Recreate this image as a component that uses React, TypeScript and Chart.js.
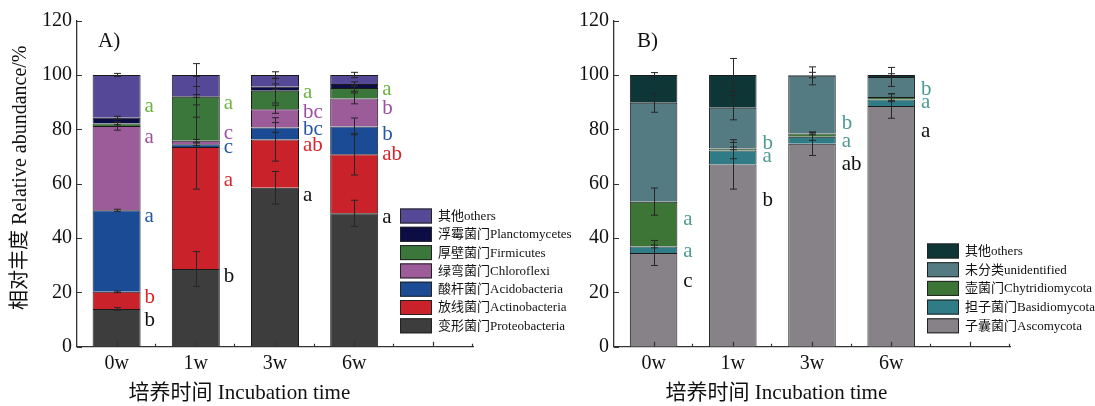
import React, { useEffect, useRef } from "react";
import { Chart, registerables } from "chart.js";
Chart.register(...registerables);

const FONT = '"Liberation Serif", "DejaVu Serif", serif';
const MIXED = '"Liberation Serif", "Noto Sans CJK SC", serif';

const categories = ["0w", "1w", "3w", "6w", ""];

// ---------- Panel A: bacteria ----------
const bacteriaNames = [
  "变形菌门Proteobacteria",
  "放线菌门Actinobacteria",
  "酸杆菌门Acidobacteria",
  "绿弯菌门Chloroflexi",
  "厚壁菌门Firmicutes",
  "浮霉菌门Planctomycetes",
  "其他others",
];
const proteobacteria = [13.9, 28.6, 58.5, 49.1];
const actinobacteria = [6.3, 44.9, 17.8, 21.7];
const acidobacteria = [30.0, 1.0, 4.4, 10.3];
const chloroflexi = [31.0, 1.3, 6.7, 10.3];
const firmicutes = [1.0, 16.2, 6.8, 3.8];
const planctomycetes = [2.1, 0.3, 1.5, 1.5];
const bacteriaOthers = [15.7, 7.7, 4.3, 3.3];

const proteobacteriaErr = [0.5, 6.4, 6.0, 4.8];
const actinobacteriaErr = [0.3, 15.5, 8.0, 7.6];
const acidobacteriaErr = [0.4, 0.5, 1.8, 3.1];
const chloroflexiErr = [1.5, 0.5, 1.5, 2.0];
const firmicutesErr = [0.5, 7.5, 4.5, 1.2];
const planctomycetesErr = [0.5, 0.5, 1.0, 0.8];
const bacteriaOthersErr = [0.6, 4.2, 1.2, 1.0];

const bacteriaColors = ["#3d3d3d", "#c9222b", "#1b4b94", "#9c5b99", "#3b763a", "#0d0d45", "#554896"];

const bacteriaLetterText = [
  ["a", "a", "a", "b", "b"],
  ["a", "c", "c", "a", "b"],
  ["a", "bc", "bc", "ab", "a"],
  ["a", "b", "b", "ab", "a"],
];
const bacteriaLetterAt = [
  [88.6, 77.1, 48.1, 18.3, 9.8],
  [89.7, 78.6, 73.5, 61.3, 25.7],
  [93.4, 86.1, 80.1, 74.2, 55.8],
  [94.8, 87.8, 78.3, 70.9, 47.7],
];
const bacteriaLetterColors = ["#6db33f", "#9b4f9e", "#2456a4", "#d7262b", "#111111"];

// ---------- Panel B: fungi ----------
const fungiNames = [
  "子囊菌门Ascomycota",
  "担子菌门Basidiomycota",
  "壶菌门Chytridiomycota",
  "未分类unidentified",
  "其他others",
];
const ascomycota = [34.5, 67.1, 74.7, 88.6];
const basidiomycota = [2.4, 5.1, 2.6, 2.4];
const chytridiomycota = [16.5, 0.8, 1.2, 0.9];
const unidentified = [36.4, 15.0, 21.2, 7.4];
const fungiOthers = [10.2, 12.0, 0.3, 0.7];

const ascomycotaErr = [4.6, 9.1, 4.3, 4.5];
const basidiomycotaErr = [0.5, 3.0, 1.35, 0.8];
const chytridiomycotaErr = [5.0, 0.5, 0.5, 1.2];
const unidentifiedErr = [3.5, 4.5, 3.3, 3.5];
const fungiOthersErr = [0.9, 6.1, 1.0, 0.5];

const fungiColors = ["#878287", "#2f7c86", "#3c7535", "#557b82", "#0e3636"];

const fungiLetterText = [
  ["a", "a", "c"],
  ["b", "a", "b"],
  ["b", "a", "ab"],
  ["b", "a", "a"],
];
const fungiLetterAt = [
  [47.0, 35.2, 23.9],
  [74.9, 69.9, 54.0],
  [82.2, 75.5, 67.2],
  [94.7, 89.8, 79.1],
];
const fungiLetterColors = ["#4e9a93", "#4e9a93", "#111111"];

const yTitle = "相对丰度 Relative abundance/%";
const xTitle = "培养时间 Incubation time";

type Panel = {
  names: string[];
  series: number[][];
  errors: number[][];
  colors: string[];
  letterText: string[][];
  letterAt: number[][];
  letterColors: string[];
  letterDx: number;
  legendX: number;
  legendY: number;
  legendDy: number;
  label: string;
  labelX: number;
  showYTitle: boolean;
  yWidth: number;
  padRight: number;
  barFrac: number;
};

function makePlugin(p: Panel) {
  return {
    id: "extras",
    afterDatasetsDraw(chart: any) {
      const ctx = chart.ctx as CanvasRenderingContext2D;
      const xs = chart.scales.x;
      const ys = chart.scales.y;
      const n = p.series[0].length;
      ctx.save();
      // error bars
      ctx.strokeStyle = "#262626";
      ctx.lineWidth = 1;
      for (let i = 0; i < n; i++) {
        let cum = 0;
        const px = Math.round(xs.getPixelForValue(i)) + 0.5;
        for (let k = 0; k < p.series.length; k++) {
          cum += p.series[k][i];
          const e = p.errors[k][i];
          const yt = ys.getPixelForValue(cum + e);
          const yb = ys.getPixelForValue(cum - e);
          ctx.beginPath();
          ctx.moveTo(px, yt);
          ctx.lineTo(px, yb);
          ctx.moveTo(px - 3.5, yt);
          ctx.lineTo(px + 3.5, yt);
          ctx.moveTo(px - 3.5, yb);
          ctx.lineTo(px + 3.5, yb);
          ctx.stroke();
        }
      }
      // significance letters
      const meta = chart.getDatasetMeta(0);
      ctx.font = `21px ${FONT}`;
      ctx.textAlign = "left";
      ctx.textBaseline = "middle";
      for (let i = 0; i < n; i++) {
        const el = meta.data[i];
        const right = el.x + el.width / 2 + p.letterDx;
        p.letterText[i].forEach((t, r) => {
          ctx.fillStyle = p.letterColors[r];
          ctx.fillText(t, right, ys.getPixelForValue(p.letterAt[i][r]));
        });
      }
      ctx.restore();
    },
    afterDraw(chart: any) {
      const ctx = chart.ctx as CanvasRenderingContext2D;
      const xs = chart.scales.x;
      const ys = chart.scales.y;
      const area = chart.chartArea;
      ctx.save();
      // inward ticks
      ctx.strokeStyle = "#333";
      ctx.lineWidth = 1.2;
      ctx.beginPath();
      for (let v = 0; v <= 120; v += 20) {
        const y = Math.round(ys.getPixelForValue(v)) + 0.5;
        ctx.moveTo(area.left, y);
        ctx.lineTo(area.left + 5, y);
      }
      for (let i = 0; i < categories.length; i++) {
        const x = Math.round(xs.getPixelForValue(i)) + 0.5;
        ctx.moveTo(x, area.bottom);
        ctx.lineTo(x, area.bottom - 5);
        const xb = i < categories.length - 1
          ? (xs.getPixelForValue(i) + xs.getPixelForValue(i + 1)) / 2
          : area.right;
        const xm = Math.round(xb) - 0.5;
        ctx.moveTo(xm, area.bottom);
        ctx.lineTo(xm, area.bottom - 3);
      }
      ctx.stroke();

      // legend
      ctx.font = `13px ${MIXED}`;
      ctx.textAlign = "left";
      ctx.textBaseline = "middle";
      const m = p.names.length;
      for (let k = m - 1; k >= 0; k--) {
        const r = m - 1 - k;
        const cy = p.legendY + r * p.legendDy;
        ctx.fillStyle = p.colors[k];
        ctx.fillRect(p.legendX, cy - 7.5, 32, 15);
        ctx.strokeStyle = "#222";
        ctx.lineWidth = 1;
        ctx.strokeRect(p.legendX + 0.5, cy - 7, 31, 14);
        ctx.fillStyle = "#111";
        ctx.fillText(p.names[k], p.legendX + 38, cy + 0.5);
      }

      // panel label
      ctx.font = `21px ${FONT}`;
      ctx.fillStyle = "#111";
      ctx.fillText(p.label, p.labelX, 41);

      // x title
      const fourRight = (xs.getPixelForValue(3) + xs.getPixelForValue(4)) / 2;
      ctx.font = `21px ${MIXED}`;
      ctx.textAlign = "center";
      ctx.fillText(xTitle, (area.left + fourRight) / 2 + 4, 393);

      // y title
      if (p.showYTitle) {
        ctx.translate(21, (area.top + area.bottom) / 2 - 6);
        ctx.rotate(-Math.PI / 2);
        ctx.font = `20px ${MIXED}`;
        ctx.fillText(yTitle, 0, 0);
      }
      ctx.restore();
    },
  };
}

function buildChart(canvas: HTMLCanvasElement, p: Panel) {
  const axisBorder = { display: true, color: "#333", width: 1.3 };
  return new Chart(canvas, {
    type: "bar",
    data: {
      labels: categories,
      datasets: p.series.map((d, k) => ({
        label: p.names[k],
        data: d,
        backgroundColor: p.colors[k],
        borderColor: "#1a1a1a",
        borderWidth: { top: 1, left: 1, right: 1, bottom: 0 },
        borderSkipped: false,
        categoryPercentage: 1,
        barPercentage: p.barFrac,
      })),
    },
    options: {
      responsive: false,
      animation: false,
      devicePixelRatio: 1,
      layout: { padding: { left: 0, top: 20.7, right: p.padRight, bottom: 0 } },
      plugins: { legend: { display: false }, tooltip: { enabled: false } },
      scales: {
        x: {
          stacked: true,
          grid: { display: false, drawTicks: false, tickLength: 0 },
          border: axisBorder,
          ticks: {
            font: { family: FONT, size: 20 },
            color: "#111",
            padding: 5,
            maxRotation: 0,
            autoSkip: false,
          },
          afterFit: (s: any) => {
            s.height = 406 - 346.7;
          },
        },
        y: {
          stacked: true,
          min: 0,
          max: 120,
          grid: { display: false, drawTicks: false, tickLength: 0 },
          border: axisBorder,
          ticks: {
            stepSize: 20,
            font: { family: FONT, size: 20 },
            color: "#111",
            padding: 5,
          },
          afterFit: (s: any) => {
            s.width = p.yWidth;
          },
        },
      },
    } as any,
    plugins: [makePlugin(p)],
  });
}

const panelA: Panel = {
  names: bacteriaNames,
  series: [proteobacteria, actinobacteria, acidobacteria, chloroflexi, firmicutes, planctomycetes, bacteriaOthers],
  errors: [proteobacteriaErr, actinobacteriaErr, acidobacteriaErr, chloroflexiErr, firmicutesErr, planctomycetesErr, bacteriaOthersErr],
  colors: bacteriaColors,
  letterText: bacteriaLetterText,
  letterAt: bacteriaLetterAt,
  letterColors: bacteriaLetterColors,
  letterDx: 4,
  legendX: 400,
  legendY: 216,
  legendDy: 18.3,
  label: "A)",
  labelX: 98,
  showYTitle: true,
  yWidth: 77,
  padRight: 600 - 473,
  barFrac: 0.606,
};

const panelB: Panel = {
  names: fungiNames,
  series: [ascomycota, basidiomycota, chytridiomycota, unidentified, fungiOthers],
  errors: [ascomycotaErr, basidiomycotaErr, chytridiomycotaErr, unidentifiedErr, fungiOthersErr],
  colors: fungiColors,
  letterText: fungiLetterText,
  letterAt: fungiLetterAt,
  letterColors: fungiLetterColors,
  letterDx: 6,
  legendX: 927 - 545,
  legendY: 251,
  legendDy: 18.7,
  label: "B)",
  labelX: 637 - 545,
  showYTitle: false,
  yWidth: 614 - 545,
  padRight: 1095 - 1010,
  barFrac: 0.6,
};

export default function App() {
  const refA = useRef<HTMLCanvasElement>(null);
  const refB = useRef<HTMLCanvasElement>(null);
  useEffect(() => {
    const a = buildChart(refA.current!, panelA);
    const b = buildChart(refB.current!, panelB);
    return () => {
      a.destroy();
      b.destroy();
    };
  }, []);
  return (
    <div style={{ position: "absolute", left: 0, top: 0, width: 1095, height: 406, background: "#fff", overflow: "hidden" }}>
      <canvas ref={refA} width={600} height={406} style={{ position: "absolute", left: 0, top: 0, width: 600, height: 406 }} />
      <canvas ref={refB} width={550} height={406} style={{ position: "absolute", left: 545, top: 0, width: 550, height: 406 }} />
    </div>
  );
}
